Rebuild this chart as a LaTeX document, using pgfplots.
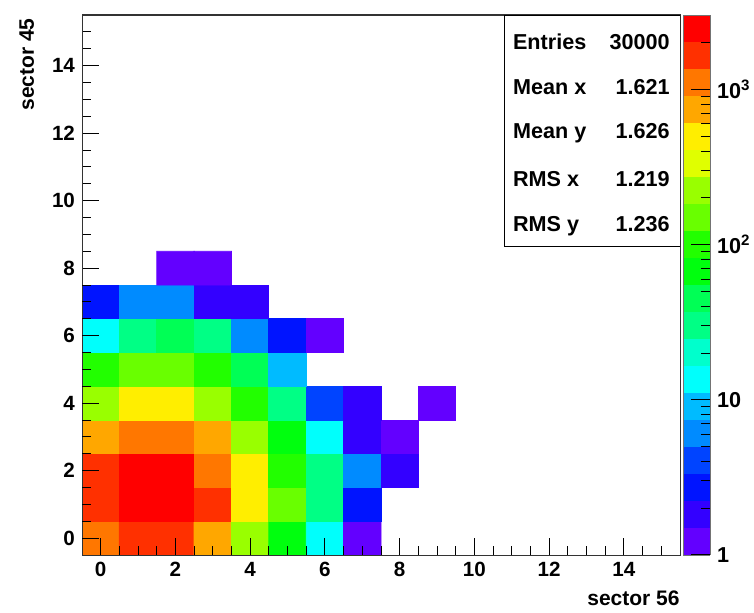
\documentclass[border=0pt]{standalone}
\usepackage{fontspec}
\setmainfont{Liberation Sans}
\usepackage{pgfplots}
\usepackage{pgfplotstable}
\pgfplotsset{compat=1.18}
\usetikzlibrary{backgrounds}

% counts per bin, x = sector 56, y = sector 45 (nan = empty bin)
\pgfplotstableread{
x y c
0 0 1080
1 0 1750
2 0 1750
3 0 720
4 0 220
5 0 66
6 0 14
7 0 1
8 0 nan
9 0 nan
0 1 1750
1 1 2650
2 1 2650
3 1 1750
4 1 490
5 1 150
6 1 30
7 1 3
8 1 nan
9 1 nan
0 2 1750
1 2 2650
2 2 2650
3 2 1080
4 2 490
5 2 100
6 2 30
7 2 6
8 2 2
9 2 nan
0 3 720
1 3 1080
2 3 1080
3 3 720
4 3 220
5 3 66
6 3 14
7 3 2
8 3 1
9 3 nan
0 4 220
1 4 490
2 4 490
3 4 220
4 4 100
5 4 30
6 4 4
7 4 2
8 4 nan
9 4 1
0 5 100
1 5 150
2 5 150
3 5 100
4 5 45
5 5 9
6 5 nan
7 5 nan
8 5 nan
9 5 nan
0 6 14
1 6 30
2 6 45
3 6 30
4 6 6
5 6 3
6 6 1
7 6 nan
8 6 nan
9 6 nan
0 7 3
1 7 6
2 7 6
3 7 2
4 7 2
5 7 nan
6 7 nan
7 7 nan
8 7 nan
9 7 nan
0 8 nan
1 8 nan
2 8 1
3 8 1
4 8 nan
5 8 nan
6 8 nan
7 8 nan
8 8 nan
9 8 nan
}\bins

\newcommand\tickfont{\fontsize{10.3}{12}\selectfont\bfseries}
\newcommand\statfont{\fontsize{10.8}{13}\selectfont\bfseries}
\newcommand\labfont{\fontsize{10.5}{12}\selectfont\bfseries}

\pgfplotsset{boxframe/.style={
  scale only axis, width=299pt, height=270pt,
  xmin=-0.5, xmax=15.5, ymin=-0.5, ymax=15.5,
  axis line style={black!80, line width=0.5pt}}}

\begin{document}
\begin{tikzpicture}
% bins and colour scale, kept under everything else
\begin{scope}[on background layer]
\begin{axis}[
  boxframe, xtick=\empty, ytick=\empty,
  unbounded coords=jump,
  colormap={rootpal}{
    rgb255=(99,0,255) rgb255=(51,0,255) rgb255=(0,20,255) rgb255=(0,68,255)
    rgb255=(0,139,255) rgb255=(0,187,255) rgb255=(0,255,252) rgb255=(0,255,204)
    rgb255=(0,255,133) rgb255=(0,255,85) rgb255=(0,255,14) rgb255=(34,255,0)
    rgb255=(105,255,0) rgb255=(153,255,0) rgb255=(224,255,0) rgb255=(255,238,0)
    rgb255=(255,167,0) rgb255=(255,119,0) rgb255=(255,48,0) rgb255=(255,0,0)},
  colormap access=piecewise constant,
  point meta min=0, point meta max=3.48,
  colorbar,
  colorbar style={
    width=13.35pt,
    at={(parent axis.north east)}, anchor=north west, xshift=-6.886pt,
    ytick={0,1,2,3},
    yticklabels={1,10,10\textsuperscript{2},10\textsuperscript{3}},
    minor ytick={0.30103,0.47712,0.60206,0.69897,0.77815,0.84510,0.90309,0.95424,
      1.30103,1.47712,1.60206,1.69897,1.77815,1.84510,1.90309,1.95424,
      2.30103,2.47712,2.60206,2.69897,2.77815,2.84510,2.90309,2.95424,
      3.30103,3.47712},
    xtick=\empty,
    ytick pos=right, yticklabel pos=right, tick align=inside,
    major tick length=9.3pt, minor tick length=4.7pt,
    axis line style={black!55, line width=0.4pt},
    every tick/.style={black, line width=0.5pt},
    tick label style={font=\statfont},
  },
]
\addplot[matrix plot*, mesh/cols=10, mesh/rows=9,
  point meta={log10(\thisrow{c})}]
  table[x=x, y=y] {\bins};
\end{axis}
\end{scope}
% frame, ticks and statistics box on top
\begin{axis}[
  boxframe,
  xtick={0,2,...,14}, ytick={0,2,...,14},
  minor xtick={0,0.5,...,15}, minor ytick={0,0.5,...,15},
  tick align=inside, xtick pos=bottom, ytick pos=left,
  major tick length=8.7pt, minor tick length=4.5pt,
  every tick/.style={black, line width=0.5pt},
  tick label style={font=\tickfont},
  /pgf/number format/assume math mode=true,
]
\draw[black, line width=0.5pt, fill=white] (rel axis cs:0.7057,0.5704) rectangle (rel axis cs:1,1);
\node[anchor=base west, inner sep=0, font=\statfont] at (rel axis cs:0.7202,0.9352) {Entries};
\node[anchor=base east, inner sep=0, font=\statfont] at (rel axis cs:0.9833,0.9352) {30000};
\node[anchor=base west, inner sep=0, font=\statfont] at (rel axis cs:0.7202,0.8519) {Mean x};
\node[anchor=base east, inner sep=0, font=\statfont] at (rel axis cs:0.9833,0.8519) {1.621};
\node[anchor=base west, inner sep=0, font=\statfont] at (rel axis cs:0.7202,0.7704) {Mean y};
\node[anchor=base east, inner sep=0, font=\statfont] at (rel axis cs:0.9833,0.7704) {1.626};
\node[anchor=base west, inner sep=0, font=\statfont] at (rel axis cs:0.7202,0.6820) {RMS x};
\node[anchor=base east, inner sep=0, font=\statfont] at (rel axis cs:0.9833,0.6820) {1.219};
\node[anchor=base west, inner sep=0, font=\statfont] at (rel axis cs:0.7202,0.6000) {RMS y};
\node[anchor=base east, inner sep=0, font=\statfont] at (rel axis cs:0.9833,0.6000) {1.236};
\coordinate (sw) at (rel axis cs:0,0);
\coordinate (se) at (rel axis cs:1,0);
\coordinate (nw) at (rel axis cs:0,1);
\end{axis}
% tick marks redrawn over the coloured bins (bin = 18.6875pt x 16.875pt)
\foreach \t in {0.5,1,1.5,2.5,3,3.5,4.5,5,5.5,6.5,7,7.5} {
  \draw[black, line width=0.5pt] ([xshift=\t*18.6875pt+9.34375pt]sw) -- ++(0,4.5pt);
  \draw[black, line width=0.5pt] ([yshift=\t*16.875pt+8.4375pt]sw) -- ++(4.5pt,0);
}
\foreach \t in {0,2,4,6} {
  \draw[black, line width=0.5pt] ([xshift=\t*18.6875pt+9.34375pt]sw) -- ++(0,8.7pt);
  \draw[black, line width=0.5pt] ([yshift=\t*16.875pt+8.4375pt]sw) -- ++(8.7pt,0);
}
\node[anchor=base east, inner sep=0, font=\labfont] at ([yshift=-25pt]se) {sector 56};
\node[anchor=base east, inner sep=0, font=\labfont, rotate=90] at ([xshift=-24pt, yshift=-1.5pt]nw) {sector 45};
\pgfresetboundingbox
\useasboundingbox ([shift={(-41pt,-28.5pt)}]sw) rectangle ([shift={(336pt,277.5pt)}]sw);
\end{tikzpicture}
\end{document}
